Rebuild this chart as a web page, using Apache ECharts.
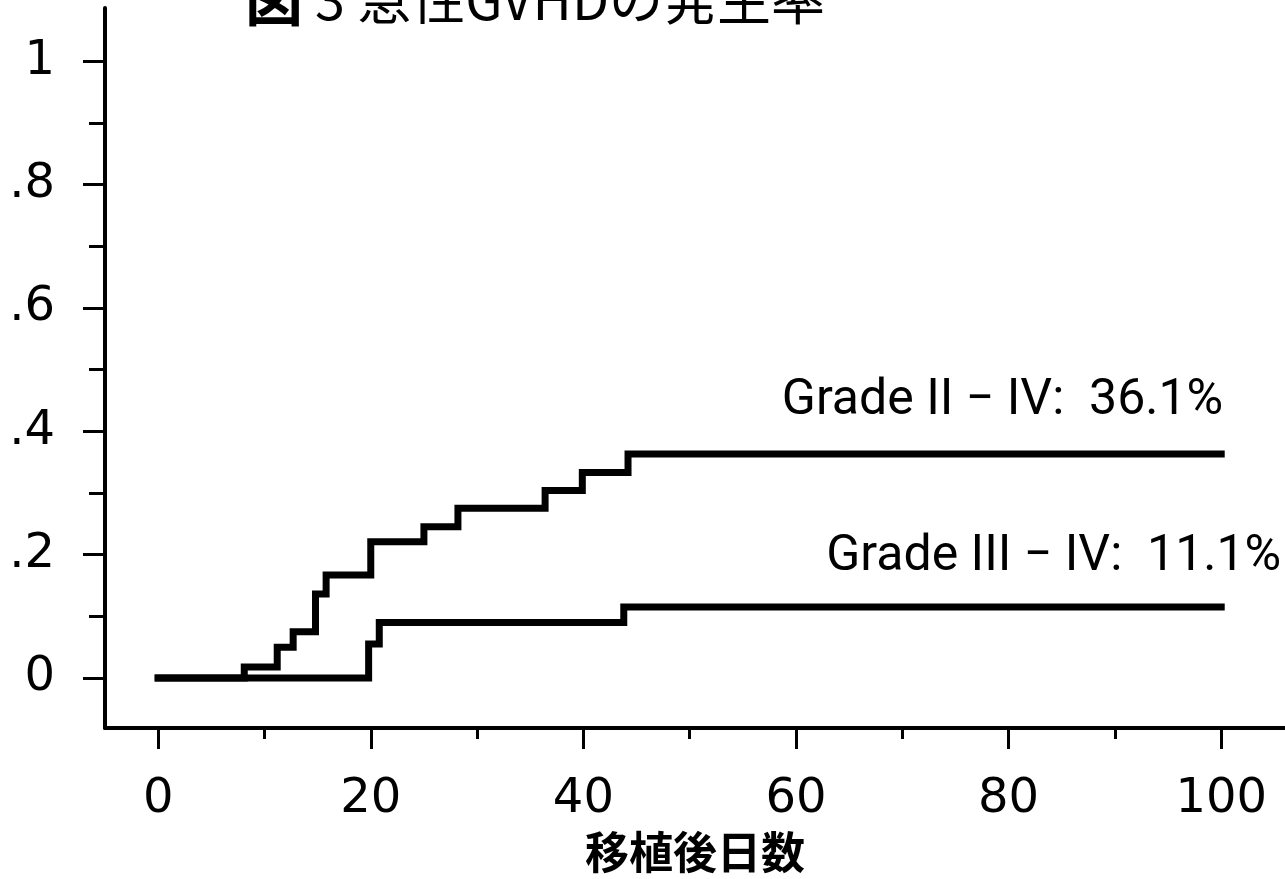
<!DOCTYPE html>
<html><head><meta charset="utf-8">
<script src="https://cdn.jsdelivr.net/npm/echarts@6/dist/echarts.min.js"></script>
<style>html,body{margin:0;padding:0;background:#fff}#c{width:1285px;height:879px}</style>
</head><body><div id="c"></div>
<script>
// ---- data ----
const titleMain = '図';
const titleRest = ' 3 急性GVHDの発生率';
const xAxisName = '移植後日数';
const xTickValues = [0, 20, 40, 60, 80, 100];
const xMinorValues = [10, 30, 50, 70, 90];
const yTickValues = [0, 0.2, 0.4, 0.6, 0.8, 1];
const yTickLabels = ['0', '.2', '.4', '.6', '.8', '1'];
const yMinorValues = [0.1, 0.3, 0.5, 0.7, 0.9];
const gradeIIDays = [0, 8.1, 11.2, 12.7, 14.8, 15.8, 20.0, 25.0, 28.2, 36.4, 39.9, 44.2, 100];
const gradeIIVals = [0, 0.018, 0.050, 0.075, 0.136, 0.167, 0.221, 0.245, 0.275, 0.304, 0.333, 0.363, 0.363];
const gradeIIIDays = [0, 19.8, 20.8, 43.8, 100];
const gradeIIIVals = [0, 0.055, 0.090, 0.115, 0.115];
const labelII = 'Grade II − IV:  36.1%';
const labelIII = 'Grade III − IV:  11.1%';

// ---- chart ----
const chart = echarts.init(document.getElementById('c'), null, {renderer: 'canvas'});
const zip = (xs, ys) => xs.map((x, i) => [x, ys[i]]);
const black = '#000';
const numFont = 'DejaVu Sans';

const option = {
  animation: false,
  backgroundColor: '#fff',
  grid: {left: 105, right: 0, top: 8, bottom: 151, containLabel: false, outerBoundsMode: 'none'},
  xAxis: [
    {
      type: 'value', min: -5, max: 106, position: 'bottom',
      axisLine: {show: true, onZero: false, lineStyle: {color: black, width: 4}},
      axisTick: {show: true, customValues: xTickValues, length: 21, lineStyle: {color: black, width: 3}},
      axisLabel: {customValues: xTickValues, color: black, fontSize: 48, fontFamily: numFont, margin: 48},
      splitLine: {show: false},
      name: xAxisName, nameLocation: 'middle', nameGap: 102,
      nameTextStyle: {color: black, fontSize: 44, fontWeight: 'bold', fontFamily: 'Noto Sans CJK JP'}
    },
    {
      type: 'value', min: -5, max: 106, position: 'bottom',
      axisLine: {show: false, onZero: false},
      axisTick: {show: true, customValues: xMinorValues, length: 11, lineStyle: {color: black, width: 3}},
      axisLabel: {show: false},
      splitLine: {show: false}
    }
  ],
  yAxis: [
    {
      type: 'value', min: -0.081, max: 1.086, position: 'left',
      axisLine: {show: true, onZero: false, lineStyle: {color: black, width: 4}},
      axisTick: {show: true, customValues: yTickValues, length: 22, lineStyle: {color: black, width: 3}},
      axisLabel: {
        customValues: yTickValues, color: black, fontSize: 48, fontFamily: numFont, margin: 50,
        formatter: v => {
          const i = yTickValues.findIndex(t => Math.abs(t - v) < 1e-9);
          return i >= 0 ? yTickLabels[i] : '';
        }
      },
      splitLine: {show: false}
    },
    {
      type: 'value', min: -0.081, max: 1.086, position: 'left',
      axisLine: {show: false, onZero: false},
      axisTick: {show: true, customValues: yMinorValues, length: 16, lineStyle: {color: black, width: 3}},
      axisLabel: {show: false},
      splitLine: {show: false}
    }
  ],
  series: [
    {
      name: 'Grade II-IV', type: 'line', step: 'end', symbol: 'none',
      xAxisIndex: 0, yAxisIndex: 0,
      lineStyle: {color: black, width: 7, join: 'miter', cap: 'square'},
      data: zip(gradeIIDays, gradeIIVals)
    },
    {
      name: 'Grade III-IV', type: 'line', step: 'end', symbol: 'none',
      xAxisIndex: 0, yAxisIndex: 0,
      lineStyle: {color: black, width: 7, join: 'miter', cap: 'square'},
      data: zip(gradeIIIDays, gradeIIIVals)
    }
  ]
};
chart.setOption(option);

const p2 = chart.convertToPixel({xAxisIndex: 0, yAxisIndex: 0}, [gradeIIDays[gradeIIDays.length - 1], gradeIIVals[gradeIIVals.length - 1]]);
const p3 = chart.convertToPixel({xAxisIndex: 0, yAxisIndex: 0}, [gradeIIIDays[gradeIIIDays.length - 1], gradeIIIVals[gradeIIIVals.length - 1]]);

chart.setOption({
  graphic: [
    {
      type: 'text', left: 245, top: -30, silent: true,
      style: {
        text: '{a|' + titleMain + '}{b|' + titleRest + '}',
        rich: {
          a: {fontSize: 58, fontWeight: 'bold', fontFamily: 'Noto Sans CJK JP', fill: black},
          b: {fontSize: 54, fontFamily: 'Noto Sans CJK JP', fill: black}
        }
      }
    },
    {
      type: 'text', silent: true,
      style: {text: labelII, x: p2[0] + 2, y: p2[1] - 53, align: 'right', verticalAlign: 'middle',
              fontSize: 50, fontFamily: 'Roboto', fill: black}
    },
    {
      type: 'text', silent: true,
      style: {text: labelIII, x: p3[0] + 60, y: p3[1] - 50, align: 'right', verticalAlign: 'middle',
              fontSize: 50, fontFamily: 'Roboto', fill: black}
    }
  ]
});
</script>
</body></html>
